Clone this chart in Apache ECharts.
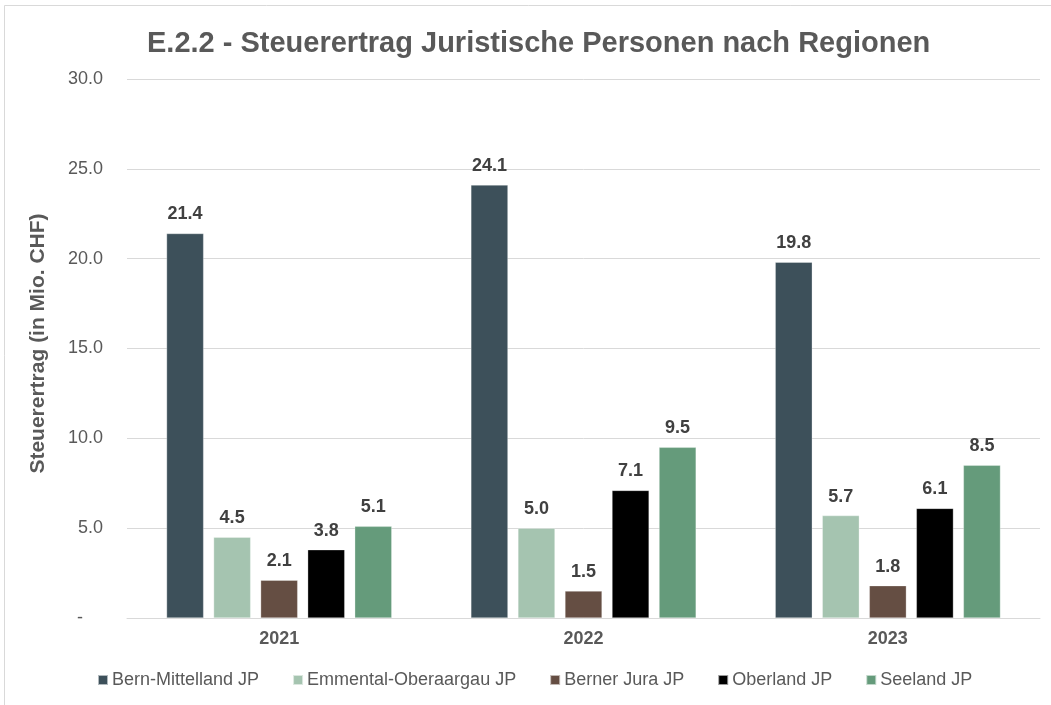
<!DOCTYPE html>
<html>
<head>
<meta charset="utf-8">
<script src="https://cdn.jsdelivr.net/npm/echarts@6/dist/echarts.min.js"></script>
<style>
  html, body { margin: 0; padding: 0; background: #fff; }
  #chart { width: 1051px; height: 705px; }
</style>
</head>
<body>
<div id="chart"></div>
<script>
// Daten (Mio. CHF)
var years = ['2021', '2022', '2023'];
var bernMittelland = [21.4, 24.1, 19.8];
var emmentalOberaargau = [4.5, 5.0, 5.7];
var bernerJura = [2.1, 1.5, 1.8];
var oberland = [3.8, 7.1, 6.1];
var seeland = [5.1, 9.5, 8.5];
var yTicks = [0, 5, 10, 15, 20, 25, 30];

var names = ['Bern-Mittelland JP', 'Emmental-Oberaargau JP', 'Berner Jura JP', 'Oberland JP', 'Seeland JP'];
var colors = ['#3d505a', '#a5c4b0', '#654e43', '#000000', '#659b7b'];
var values = [bernMittelland, emmentalOberaargau, bernerJura, oberland, seeland];

var font = 'Liberation Sans, Arial, sans-serif';

var chart = echarts.init(document.getElementById('chart'));

var series = values.map(function (v, i) {
  return {
    name: names[i],
    type: 'bar',
    data: v,
    barGap: '27%',
    barCategoryGap: '26%',
    itemStyle: { color: colors[i], borderColor: 'rgba(255,255,255,0.6)', borderWidth: 0.5 },
    label: {
      show: true,
      position: 'top',
      distance: 10,
      formatter: function (p) { return p.value.toFixed(1); },
      color: '#404040',
      fontWeight: 'bold',
      fontSize: 18,
      fontFamily: font
    }
  };
});

chart.setOption({
  backgroundColor: '#fff',
  animation: false,
  color: colors,
  title: {
    text: 'E.2.2 - Steuerertrag Juristische Personen nach Regionen',
    left: 142,
    top: 24,
    textStyle: { color: '#595959', fontSize: 29, fontWeight: 'bold', fontFamily: font }
  },
  graphic: [{
    type: 'rect',
    shape: { x: 4.5, y: 5.5, width: 1100, height: 800 },
    style: { fill: 'none', stroke: '#d9d9d9', lineWidth: 1 },
    silent: true
  }],
  legend: {
    bottom: 11,
    left: 92,
    icon: 'rect',
    itemWidth: 10,
    itemHeight: 10,
    itemGap: 33,
    textStyle: { color: '#595959', fontSize: 18, fontFamily: font, padding: [0, 0, 0, -1] },
    data: names
  },
  grid: { left: 127, right: 11, top: 79, bottom: 87 },
  xAxis: {
    type: 'category',
    data: years,
    axisLine: { show: true, lineStyle: { color: '#d9d9d9', width: 1 } },
    axisTick: { show: false },
    axisLabel: { color: '#595959', fontWeight: 'bold', fontSize: 18, fontFamily: font, margin: 12 }
  },
  yAxis: {
    type: 'value',
    min: yTicks[0],
    max: yTicks[yTicks.length - 1],
    interval: 5,
    name: 'Steuerertrag (in Mio. CHF)',
    nameLocation: 'middle',
    nameGap: 78,
    nameTextStyle: { color: '#595959', fontWeight: 'bold', fontSize: 21, fontFamily: font, padding: [0, 0, 0, 10] },
    axisLine: { show: false },
    axisTick: { show: false },
    splitLine: { lineStyle: { color: '#d9d9d9', width: 1 } },
    axisLabel: {
      color: '#595959',
      fontSize: 18,
      fontFamily: font,
      margin: 24,
      formatter: function (v) { return v === 0 ? '-    ' : v.toFixed(1); }
    }
  },
  series: series
});
</script>
</body>
</html>
